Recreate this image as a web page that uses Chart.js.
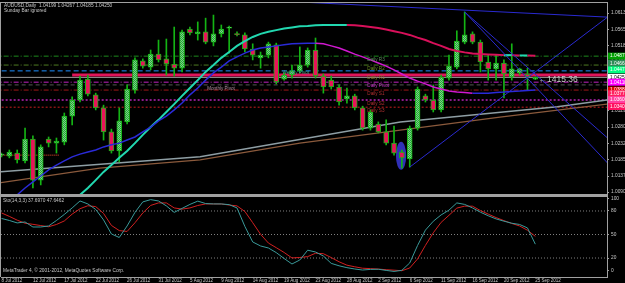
<!DOCTYPE html>
<html>
<head>
<meta charset="utf-8">
<script src="https://cdn.jsdelivr.net/npm/chart.js@4.4.0/dist/chart.umd.min.js"></script>
<style>
  html, body { margin: 0; padding: 0; background: #000; overflow: hidden; }
  #wrap { position: relative; width: 625px; height: 283px; }
  canvas { position: absolute; left: 0; }
  #price { top: 0; }
  #osc { top: 195px; }
</style>
</head>
<body>
<div id="wrap">
  <canvas id="price" width="625" height="195"></canvas>
  <canvas id="osc" width="625" height="88"></canvas>
</div>
<script>
// AUDUSD daily bars, 8 Jul 2012 .. 25 Sep 2012 (Sunday bars included)
const tickBars = [0, 4, 8, 12, 16, 20, 24, 28, 32, 36, 40, 44, 48, 52, 56, 60, 64, 68];
const tickLabels = ['8 Jul 2012', '12 Jul 2012', '17 Jul 2012', '22 Jul 2012', '26 Jul 2012', '31 Jul 2012',
  '5 Aug 2012', '9 Aug 2012', '14 Aug 2012', '19 Aug 2012', '23 Aug 2012', '28 Aug 2012',
  '2 Sep 2012', '6 Sep 2012', '11 Sep 2012', '16 Sep 2012', '20 Sep 2012', '25 Sep 2012'];

const opens = [1.0198, 1.0195, 1.0204, 1.0181, 1.0245, 1.0125, 1.0245, 1.0233, 1.0236, 1.0312,
  1.0359, 1.0420, 1.0374, 1.0336, 1.0266, 1.0210, 1.0295, 1.0388, 1.0473, 1.0455,
  1.0493, 1.0479, 1.0464, 1.0452, 1.0566, 1.0552, 1.0558, 1.0528, 1.0552, 1.0569,
  1.0552, 1.0549, 1.0508, 1.0482, 1.0490, 1.0520, 1.0420, 1.0432, 1.0444, 1.0461,
  1.0505, 1.0429, 1.0417, 1.0397, 1.0362, 1.0371, 1.0336, 1.0277, 1.0289, 1.0266,
  1.0233, 1.0207, 1.0187, 1.0277, 1.0371, 1.0359, 1.0330, 1.0423, 1.0455, 1.0528,
  1.0552, 1.0528, 1.0470, 1.0450, 1.0467, 1.0426, 1.0438, 1.0435, 1.04199];
const highs = [1.0204, 1.0213, 1.0213, 1.0277, 1.0254, 1.0228, 1.0251, 1.0248, 1.0321, 1.0368,
  1.0429, 1.0432, 1.0379, 1.0344, 1.0274, 1.0336, 1.0403, 1.0482, 1.0479, 1.0505,
  1.0534, 1.0537, 1.0572, 1.0563, 1.0572, 1.0587, 1.0598, 1.0607, 1.0578, 1.0575,
  1.0558, 1.0555, 1.0523, 1.0499, 1.0528, 1.0525, 1.0438, 1.0461, 1.0514, 1.0511,
  1.0540, 1.0435, 1.0429, 1.0403, 1.0394, 1.0376, 1.0341, 1.0330, 1.0295, 1.0301,
  1.0283, 1.0213, 1.0283, 1.0397, 1.0376, 1.0403, 1.0432, 1.0490, 1.0561, 1.0616,
  1.0558, 1.0534, 1.0490, 1.0490, 1.0476, 1.0523, 1.0452, 1.0452, 1.04267];
const lows = [1.0193, 1.0190, 1.0175, 1.0175, 1.0102, 1.0111, 1.0222, 1.0204, 1.0228, 1.0286,
  1.0353, 1.0371, 1.0330, 1.0242, 1.0204, 1.0178, 1.0289, 1.0379, 1.0452, 1.0447,
  1.0470, 1.0432, 1.0429, 1.0441, 1.0549, 1.0534, 1.0523, 1.0517, 1.0543, 1.0496,
  1.0546, 1.0499, 1.0476, 1.0452, 1.0482, 1.0406, 1.0417, 1.0423, 1.0438, 1.0455,
  1.0423, 1.0379, 1.0391, 1.0344, 1.0350, 1.0330, 1.0271, 1.0271, 1.0263, 1.0228,
  1.0198, 1.0160, 1.0163, 1.0271, 1.0353, 1.0324, 1.0324, 1.0417, 1.0450, 1.0523,
  1.0523, 1.0441, 1.0417, 1.0417, 1.0365, 1.0417, 1.0432, 1.0388, 1.04185];
const closes = [1.0201, 1.0207, 1.0184, 1.0245, 1.0125, 1.0222, 1.0233, 1.0239, 1.0312, 1.0359,
  1.0417, 1.0376, 1.0336, 1.0266, 1.0210, 1.0298, 1.0391, 1.0476, 1.0458, 1.0493,
  1.0476, 1.0464, 1.0452, 1.0558, 1.0555, 1.0558, 1.0528, 1.0552, 1.0566, 1.0572,
  1.0550, 1.0508, 1.0490, 1.0490, 1.0523, 1.0412, 1.0432, 1.0444, 1.0461, 1.0505,
  1.0429, 1.0397, 1.0397, 1.0353, 1.0371, 1.0336, 1.0277, 1.0324, 1.0266, 1.0233,
  1.0204, 1.0190, 1.0277, 1.0391, 1.0359, 1.0330, 1.0426, 1.0458, 1.0531, 1.0549,
  1.0528, 1.0470, 1.0450, 1.0467, 1.0435, 1.0450, 1.0450, 1.0426, 1.04250];

// moving averages (null = not drawn)
const maArc = [null, null, null, null, null, null, null, null, null,
  1.0061, 1.0082, 1.0102, 1.0125, 1.0149, 1.0169, 1.0190, 1.0210, 1.0233, 1.0257, 1.0280,
  1.0301, 1.0324, 1.0347, 1.0371, 1.0394, 1.0417, 1.0441, 1.0461, 1.0482, 1.0499,
  1.0517, 1.0531, 1.0543, 1.0552, 1.0558, 1.0563, 1.0568, 1.0571, 1.0574, 1.0575,
  1.0577, 1.0578, 1.0578, 1.0578, 1.0578, 1.0577, 1.0575, 1.0572, 1.0569, 1.0565,
  1.0560, 1.0555, 1.0549, 1.0541, 1.0534, 1.0525, 1.0517, 1.0508, 1.0502, 1.0498,
  1.0495, 1.0493, 1.0492, 1.0491, 1.0490, 1.0490, 1.0489, 1.0489, 1.0488];
const maSlow = [null, null,
  1.0082, 1.0102, 1.0120, 1.0137, 1.0155, 1.0169, 1.0181, 1.0193, 1.0201, 1.0207,
  1.0213, 1.0222, 1.0228, 1.0233, 1.0242, 1.0251, 1.0266, 1.0280, 1.0298, 1.0312,
  1.0330, 1.0350, 1.0374, 1.0394, 1.0417, 1.0438, 1.0455, 1.0473, 1.0485, 1.0496,
  1.0505, 1.0511, 1.0514, 1.0517, 1.0520, 1.0523, 1.0524, 1.0525, 1.0525, 1.0523,
  1.0517, 1.0511, 1.0502, 1.0493, 1.0485, 1.0476, 1.0467, 1.0458, 1.0447, 1.0435,
  1.0423, 1.0414, 1.0406, 1.0397, 1.0391, 1.0385, 1.0382, 1.0381, 1.0379, 1.0379,
  1.0379, 1.0381, 1.0382, 1.0384, 1.0385, 1.0387, 1.0388];

// long lines (bar position, price)
const grayBars = [-0.2, 25.3, 50.8, 70.8, 77.2];
const grayPrices = [1.0149, 1.0193, 1.0295, 1.0339, 1.0359];
const brownBars = [-0.2, 12.5, 25.3, 38, 50.8, 63.5, 77.2];
const brownPrices = [1.0117, 1.0160, 1.0184, 1.0233, 1.0271, 1.0309, 1.0347];

// drawn trend lines: from (bar, price) to (bar, price)
const trendFromBar = [38, 52, 59, 59];
const trendFromPrice = [1.0645, 1.0163, 1.0616, 1.0616];
const trendToBar = [77.2, 77.2, 77.2, 77.2];
const trendToPrice = [1.0601, 1.0601, 1.0175, 1.0248];

// horizontal levels
const levelPrices = [1.0487, 1.0461, 1.0444, 1.0432, 1.0425, 1.0411, 1.0403, 1.0388, 1.0359, 1.0338, 1.0198];
const levelFrom = [-1, -1, -1, 9, -1, -1, -1, -1, -1, -1, -1];
const levelTo = [78, 78, 78, 78, 78, 78, 78, 78, 78, 78, 7.3];
const levelStyles = [
  { color: '#1d8a1d', dash: [5, 2, 1, 2], width: 1 },
  { color: '#4f7a22', dash: [5, 2, 1, 2], width: 1 },
  { color: '#1e90ff', dash: [5, 3], width: 1 },
  { color: '#e0145a', dash: [], width: 3 },
  { color: '#9a9a9a', dash: [], width: 1 },
  { color: '#c020c0', dash: [5, 2, 1, 2], width: 1 },
  { color: '#555555', dash: [4, 3], width: 1 },
  { color: '#a01818', dash: [5, 2, 1, 2], width: 1 },
  { color: '#8a1a8a', dash: [2, 2], width: 2 },
  { color: '#c81e1e', dash: [2, 2], width: 1 },
  { color: '#ff5030', dash: [1, 1], width: 1 }
];

const pivotNames = ['Daily R3', 'Daily R2', 'Daily R1', 'Daily Pivot', 'Daily S1', 'Daily S2', 'Daily S3'];
const pivotPrices = [1.0487, 1.0461, 1.0435, 1.0411, 1.0388, 1.0359, 1.0338];
const pivotColors = ['#5f8f5f', '#6b8e23', '#8b7d2b', '#c030c0', '#b03030', '#b03030', '#b03030'];

const axisBoxPrices = [1.0487, 1.0466, 1.0447, 1.0425, 1.0411, 1.0388, 1.0377, 1.0360, 1.0340];
const axisBoxColors = ['#00a000', '#2e8b57', '#00ff7f', '#ffffff', '#ff00ff', '#e00000', '#ff2060', '#ff40a0', '#ff1060'];

const priceTicks = [1.06130, 1.05650, 1.05180, 1.04710, 1.04240, 1.03760, 1.03290, 1.02800, 1.02320, 1.01850, 1.01370, 1.00900];

// Stochastic (14,3,3)
const stochMain = [70.5, 67.9, 64.8, 66.0, 59.6, 59.6, 60.9, 67.9, 75.6, 83.9,
  92.8, 89.0, 82.0, 68.6, 50.7, 46.2, 60.9, 78.2, 91.6, 94.5,
  92.8, 86.5, 78.2, 83.3, 88.4, 92.6, 89.5, 89.0, 89.0, 88.1,
  83.9, 60.3, 40.5, 35.4, 32.8, 26.9, 19.4, 12.4, 17.5, 30.0,
  27.7, 22.6, 13.2, 10.1, 7.7, 6.0, 4.7, 5.5, 5.7, 4.2,
  2.9, 4.3, 13.7, 36.0, 55.6, 66.9, 75.0, 81.1, 90.3, 88.4,
  83.9, 78.5, 73.9, 69.9, 67.0, 64.4, 62.8, 58.4, 37.6970];
const stochSignal = [77.5, 73.1, 68.3, 64.4, 63.0, 61.4, 59.9, 62.8, 67.3, 76.0,
  82.9, 86.7, 85.6, 76.9, 61.6, 55.0, 53.9, 65.0, 77.5, 87.1,
  90.3, 90.3, 83.9, 82.4, 83.9, 87.0, 89.0, 89.0, 88.9, 87.6,
  86.5, 79.4, 65.1, 50.3, 39.1, 33.2, 27.1, 20.1, 20.7, 21.8,
  26.1, 25.5, 20.6, 15.2, 10.9, 8.8, 7.0, 6.5, 5.9, 5.1,
  4.5, 3.8, 7.3, 18.8, 36.1, 52.2, 65.5, 74.5, 83.7, 86.2,
  86.1, 80.6, 76.0, 71.6, 67.7, 64.1, 60.9, 55.4, 47.6462];
const stochLevels = [20, 50, 80];
const stochTickValues = [3.5, 20, 50, 80, 95.5];
const stochTickLabels = ['0', '20', '50', '80', '100'];

const xMin = -0.064, xMax = 77.13;
const FONT = 'Liberation Sans';
const bars = opens.map((_, i) => i);
const last = bars.length - 1;

function dotted() {
  const c = document.createElement('canvas');
  c.width = 2; c.height = 2;
  const g = c.getContext('2d');
  g.fillStyle = '#78e078'; g.fillRect(0, 0, 2, 2);
  g.fillStyle = '#2a9a48'; g.fillRect(0, 0, 1, 1); g.fillRect(1, 1, 1, 1);
  return g.createPattern(c, 'repeat');
}
const bullFill = dotted();

const frame = {
  id: 'frame',
  afterDraw(chart) {
    const { ctx, chartArea: a } = chart;
    ctx.save();
    ctx.strokeStyle = '#a0a0a0';
    ctx.lineWidth = 1;
    ctx.strokeRect(a.left - 0.5, a.top - 0.5, a.right - a.left + 1, a.bottom - a.top + 1);
    ctx.restore();
  }
};

const ellipse = {
  id: 'ellipse',
  beforeDatasetsDraw(chart) {
    const { ctx, scales: { x, y } } = chart;
    const cx = x.getPixelForValue(50.9), cy = y.getPixelForValue(1.0196);
    const rx = x.getPixelForValue(51.55) - cx, ry = cy - y.getPixelForValue(1.0237);
    ctx.save();
    ctx.fillStyle = '#3030b8';
    ctx.beginPath();
    ctx.ellipse(cx, cy, rx, ry, 0, 0, Math.PI * 2);
    ctx.fill();
    ctx.restore();
  }
};

const priceText = {
  id: 'priceText',
  afterDraw(chart) {
    const { ctx, scales: { x, y } } = chart;
    ctx.save();
    ctx.textBaseline = 'top';
    ctx.font = `4.8px "${FONT}"`;
    ctx.fillStyle = '#c8c8c8';
    ctx.fillText(`AUDUSD,Daily  ${opens[last].toFixed(5)} ${highs[last].toFixed(5)} ${lows[last].toFixed(5)} ${closes[last].toFixed(5)}`, 4, 3);
    ctx.fillText('Sunday Bar ignored', 4, 8.5);

    ctx.font = `4.6px "${FONT}"`;
    pivotNames.forEach((n, i) => {
      ctx.fillStyle = pivotColors[i];
      ctx.fillText(n, x.getPixelForValue(46.6), y.getPixelForValue(pivotPrices[i]) + 1);
    });
    ctx.fillStyle = '#b090a0';
    ctx.fillText('Monthly Pivot', x.getPixelForValue(26.2), y.getPixelForValue(1.0400));
    ctx.fillStyle = '#40a080';
    ctx.fillText('Weekly Pivot', x.getPixelForValue(35.8), y.getPixelForValue(1.0446));

    ctx.font = `8.5px "${FONT}"`;
    ctx.fillStyle = '#c8c8c8';
    ctx.textBaseline = 'middle';
    ctx.fillText('\u21901415.36', x.getPixelForValue(68.4), y.getPixelForValue(1.0419));

    // coloured price labels on the axis
    ctx.font = `4.8px "${FONT}"`;
    axisBoxPrices.forEach((p, i) => {
      const py = y.getPixelForValue(p);
      ctx.fillStyle = axisBoxColors[i];
      ctx.fillRect(608, py - 3.5, 17, 7);
      ctx.fillStyle = i === 3 ? '#000' : '#fff';
      ctx.fillText(p.toFixed(5), 610, py);
    });
    ctx.restore();
  }
};

const levelSets = levelPrices.map((p, i) => ({
  type: 'line',
  data: [{ x: levelFrom[i], y: p }, { x: levelTo[i], y: p }],
  borderColor: levelStyles[i].color,
  borderDash: levelStyles[i].dash,
  borderWidth: levelStyles[i].width,
  pointRadius: 0,
  order: 10
}));

const trendSets = trendFromBar.map((b, i) => ({
  type: 'line',
  data: [{ x: b, y: trendFromPrice[i] }, { x: trendToBar[i], y: trendToPrice[i] }],
  borderColor: '#2a2ad0',
  borderWidth: 1,
  pointRadius: 0,
  order: 0
}));

new Chart(document.getElementById('price'), {
  type: 'bar',
  data: {
    datasets: [
      ...levelSets,
      {
        type: 'line',
        data: grayBars.map((b, i) => ({ x: b, y: grayPrices[i] })),
        borderColor: '#8e9ea4', borderWidth: 1.5, pointRadius: 0, order: 9
      },
      {
        type: 'line',
        data: brownBars.map((b, i) => ({ x: b, y: brownPrices[i] })),
        borderColor: '#8b5a3c', borderWidth: 1.2, pointRadius: 0, order: 9
      },
      {
        type: 'bar',
        data: bars.map(i => ({ x: i, y: [lows[i], highs[i]] })),
        backgroundColor: '#14b414',
        barThickness: 1,
        grouped: false,
        order: 4
      },
      {
        type: 'bar',
        data: bars.map(i => ({ x: i, y: [opens[i], closes[i]] })),
        backgroundColor: bars.map(i => closes[i] >= opens[i] ? bullFill : '#e8145a'),
        borderColor: '#14b414',
        borderWidth: 1,
        borderSkipped: false,
        barThickness: 5,
        minBarLength: 1,
        grouped: false,
        order: 3
      },
      {
        type: 'line',
        data: bars.map(i => ({ x: i, y: maSlow[i] })),
        borderWidth: 1.5, pointRadius: 0, order: 2,
        segment: { borderColor: c => c.p1.parsed.y < c.p0.parsed.y ? '#d018d0' : '#2a2ad8' }
      },
      {
        type: 'line',
        data: bars.map(i => ({ x: i, y: maArc[i] })),
        borderWidth: 2, pointRadius: 0, order: 2,
        segment: { borderColor: c => c.p1.parsed.y < c.p0.parsed.y ? '#d8105a' : '#22d8b0' }
      },
      ...trendSets
    ]
  },
  options: {
    responsive: false,
    animation: false,
    events: [],
    layout: { padding: { left: 1, top: 3, right: 0, bottom: 1 } },
    plugins: { legend: { display: false }, tooltip: { enabled: false } },
    scales: {
      x: { type: 'linear', min: xMin, max: xMax, offset: false, display: false },
      y: {
        position: 'right', min: 1.00845, max: 1.06422,
        afterBuildTicks: s => { s.ticks = priceTicks.map(v => ({ value: v })); },
        afterFit: s => { s.width = 18; s.paddingTop = 0; s.paddingBottom = 0; },
        ticks: {
          color: '#c8c8c8', padding: 2, crossAlign: 'near',
          font: { family: FONT, size: 4.8 },
          callback: v => v.toFixed(5)
        },
        grid: { drawOnChartArea: false, tickLength: 2, color: '#a0a0a0' },
        border: { color: '#a0a0a0' }
      }
    }
  },
  plugins: [ellipse, frame, priceText]
});

const oscFrame = {
  id: 'oscFrame',
  afterDraw(chart) {
    const { ctx, chartArea: a } = chart;
    ctx.save();
    ctx.fillStyle = '#a0a0a0';
    ctx.fillRect(a.left - 1, 0, a.right - a.left + 1, 2);
    ctx.fillRect(a.left - 1, 0, 1, a.bottom);
    ctx.font = `4.8px "${FONT}"`;
    ctx.textBaseline = 'top';
    ctx.fillStyle = '#c8c8c8';
    ctx.fillText(`Sto(14,3,3) ${stochMain[last].toFixed(4)} ${stochSignal[last].toFixed(4)}`, 3, 3);
    ctx.fillText('MetaTrader 4, \u00a9 2001-2012, MetaQuotes Software Corp.', 3, 73.5);
    ctx.restore();
  }
};

new Chart(document.getElementById('osc'), {
  type: 'line',
  data: {
    datasets: [
      ...stochLevels.map(v => ({
        data: [{ x: xMin, y: v }, { x: xMax, y: v }],
        borderColor: '#808080', borderDash: [1, 2], borderWidth: 1, pointRadius: 0, order: 5
      })),
      {
        data: bars.map(i => ({ x: i, y: stochMain[i] })),
        borderColor: '#3a9a9a', borderWidth: 1, pointRadius: 0, order: 1
      },
      {
        data: bars.map(i => ({ x: i, y: stochSignal[i] })),
        borderColor: '#d02020', borderWidth: 1, pointRadius: 0, order: 2
      }
    ]
  },
  options: {
    responsive: false,
    animation: false,
    events: [],
    layout: { padding: { left: 1, top: 0, right: 0, bottom: 0 } },
    plugins: { legend: { display: false }, tooltip: { enabled: false } },
    scales: {
      x: {
        type: 'linear', min: xMin, max: xMax, offset: false,
        afterBuildTicks: s => { s.ticks = tickBars.map(v => ({ value: v })); },
        afterFit: s => { s.height = 6; },
        ticks: {
          color: '#c8c8c8', padding: 0, align: 'start', maxRotation: 0, autoSkip: false,
          font: { family: FONT, size: 4.5 },
          callback: (v, i) => tickLabels[i]
        },
        grid: { drawOnChartArea: false, tickLength: 1, color: '#a0a0a0' },
        border: { color: '#a0a0a0', dash: [1, 1] }
      },
      y: {
        position: 'right', min: -4.2, max: 100.4,
        afterBuildTicks: s => { s.ticks = stochTickValues.map(v => ({ value: v })); },
        afterFit: s => { s.width = 18; s.paddingTop = 0; s.paddingBottom = 0; },
        ticks: {
          color: '#c8c8c8', padding: 2, crossAlign: 'near',
          font: { family: FONT, size: 4.8 },
          callback: (v, i) => stochTickLabels[i]
        },
        grid: { drawOnChartArea: false, tickLength: 2, color: '#a0a0a0' },
        border: { color: '#a0a0a0' }
      }
    }
  },
  plugins: [oscFrame]
});
</script>
</body>
</html>
